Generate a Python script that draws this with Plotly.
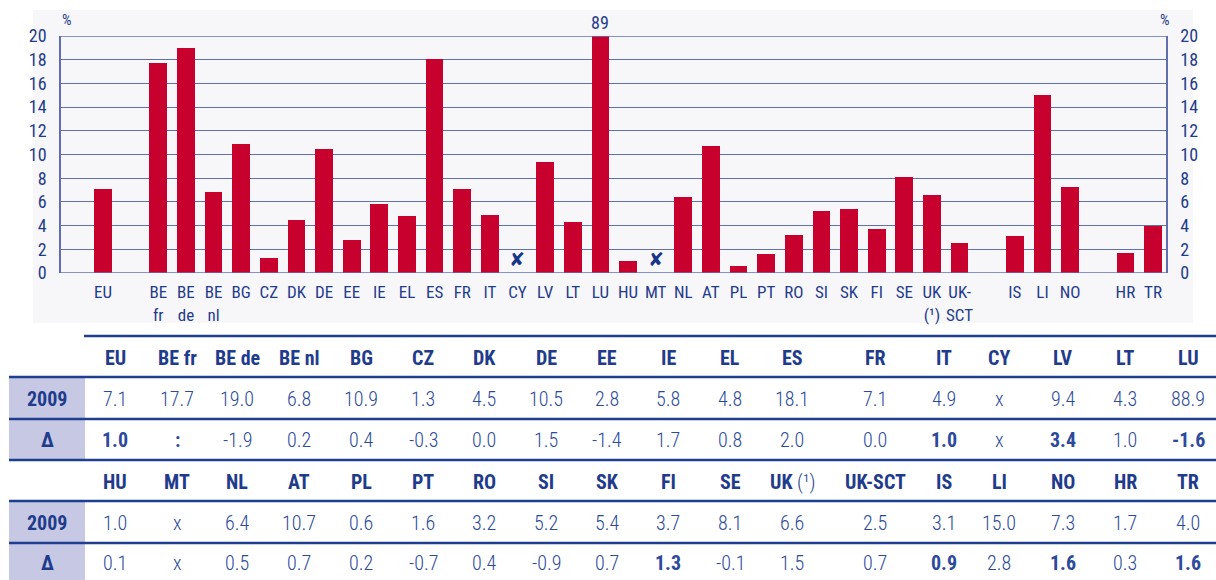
import plotly.graph_objects as go

# ---------------- data ----------------
countries = ["EU", "BE fr", "BE de", "BE nl", "BG", "CZ", "DK", "DE", "EE", "IE", "EL", "ES",
             "FR", "IT", "CY", "LV", "LT", "LU", "HU", "MT", "NL", "AT", "PL", "PT", "RO", "SI",
             "SK", "FI", "SE", "UK", "UK-SCT", "IS", "LI", "NO", "HR", "TR"]
values_2009 = [7.1, 17.7, 19.0, 6.8, 10.9, 1.3, 4.5, 10.5, 2.8, 5.8, 4.8, 18.1,
               7.1, 4.9, None, 9.4, 4.3, 88.9, 1.0, None, 6.4, 10.7, 0.6, 1.6, 3.2, 5.2,
               5.4, 3.7, 8.1, 6.6, 2.5, 3.1, 15.0, 7.3, 1.7, 4.0]
delta = ["1.0", ":", "-1.9", "0.2", "0.4", "-0.3", "0.0", "1.5", "-1.4", "1.7", "0.8", "2.0",
         "0.0", "1.0", "x", "3.4", "1.0", "-1.6", "0.1", "x", "0.5", "0.7", "0.2", "-0.7", "0.4", "-0.9",
         "0.7", "1.3", "-0.1", "1.5", "0.7", "0.9", "2.8", "1.6", "0.3", "1.6"]
delta_bold = ["EU", "BE fr", "IT", "LV", "LU", "FI", "IS", "NO", "TR"]
chart_groups = [["EU"],
                ["BE fr", "BE de", "BE nl", "BG", "CZ", "DK", "DE", "EE", "IE", "EL", "ES", "FR",
                 "IT", "CY", "LV", "LT", "LU", "HU", "MT", "NL", "AT", "PL", "PT", "RO", "SI",
                 "SK", "FI", "SE", "UK", "UK-SCT"],
                ["IS", "LI", "NO"],
                ["HR", "TR"]]
chart_ticktext = {"BE fr": "BE<br>fr", "BE de": "BE<br>de", "BE nl": "BE<br>nl",
                  "UK": "UK<br>(¹)", "UK-SCT": "UK-<br>SCT"}
table_header_text = {"UK": "<b>UK</b> <span style='font-weight:300'>(¹)</span>"}
y_ticks = [0, 2, 4, 6, 8, 10, 12, 14, 16, 18, 20]
row_label_year = "2009"
row_label_delta = "Δ"

# ---------------- style ----------------
W, H = 1216, 580
NAVY = "#1f3c8c"
TXT = "#2b4a9b"
RED = "#c8002e"
GRID = "#6170ad"
LAV = "#c6c8e4"
CF = "Liberation Sans Narrow, Roboto Condensed, Arial Narrow, sans-serif"
TF = "Roboto Condensed, Liberation Sans Narrow, Arial Narrow, sans-serif"

def px(x):
    return x / W

def py(y):
    return 1 - y / H

def label(xp, yp, text, font, xanchor="center", yanchor="middle"):
    return dict(x=px(xp), y=py(yp), xref="paper", yref="paper", text=text, showarrow=False,
                xanchor=xanchor, yanchor=yanchor, font=font)

# slots for the chart
pos = {}
slot = 0
for gi, g in enumerate(chart_groups):
    for c in g:
        pos[c] = slot
        slot += 1
    slot += 1

val = dict(zip(countries, values_2009))
bar_x = [pos[c] for c in countries if val[c] is not None]
bar_y = [val[c] for c in countries if val[c] is not None]

fig = go.Figure()
fig.add_trace(go.Bar(x=bar_x, y=bar_y, width=0.64, marker=dict(color=RED, line=dict(width=0)),
                     showlegend=False, hoverinfo="skip"))
# invisible trace on the right axis to show it
fig.add_trace(go.Scatter(x=[pos["TR"]], y=[0], yaxis="y2", mode="markers",
                         marker=dict(opacity=0), showlegend=False, hoverinfo="skip"))

x0p, x1p = 61, 1166
y0p, y1p = 273, 36
fig.update_layout(
    template="none",
    width=W, height=H, margin=dict(l=0, r=0, t=0, b=0, pad=0, autoexpand=False), autosize=False,
    paper_bgcolor="white", plot_bgcolor="rgba(0,0,0,0)",
    bargap=0,
    xaxis=dict(domain=[px(x0p), px(x1p)], range=[-1.52, 38.47], showgrid=False, zeroline=False,
               automargin=False,
               tickmode="array", tickvals=[pos[c] for c in countries],
               ticktext=[chart_ticktext.get(c, c) for c in countries],
               tickfont=dict(family=CF, size=17, color=NAVY), ticks="outside", ticklen=4,
               tickcolor="rgba(0,0,0,0)", showline=False, fixedrange=True),
    yaxis=dict(domain=[py(y0p), py(y1p)], range=[0, 20], tickvals=y_ticks, automargin=False,
               showgrid=True, gridcolor=GRID, gridwidth=1.3, zeroline=False,
               showline=True, linecolor=GRID, linewidth=1.5,
               tickfont=dict(family=CF, size=18, color=NAVY), ticks="outside", ticklen=9,
               tickcolor="rgba(0,0,0,0)"),
    yaxis2=dict(overlaying="y", side="right", range=[0, 20], tickvals=y_ticks, showgrid=False,
                automargin=False,
                zeroline=False, showline=True, linecolor=GRID, linewidth=1.5,
                tickfont=dict(family=CF, size=18, color=NAVY), ticks="outside", ticklen=9,
                tickcolor="rgba(0,0,0,0)"),
)

shapes = []
annotations = []
# chart panel background
shapes.append(dict(type="rect", xref="paper", yref="paper", x0=px(33), x1=px(1193),
                   y0=py(323), y1=py(10), fillcolor="#f7f7f9", line=dict(width=0), layer="below"))
# top border line at 20 and bottom at 0
for yv in (0, 20):
    shapes.append(dict(type="line", xref="paper", yref="y", x0=px(x0p), x1=px(x1p), y0=yv, y1=yv,
                       line=dict(color=GRID, width=1.5), layer="above"))

# % labels
annotations.append(label(67, 20, "%", dict(family=CF, size=15, color=NAVY)))
annotations.append(label(1165, 20, "%", dict(family=CF, size=15, color=NAVY)))
# LU off-scale label
annotations.append(dict(x=pos["LU"], y=20, xref="x", yref="y", yanchor="bottom", xanchor="center",
                        yshift=1, text=str(round(val["LU"])), showarrow=False,
                        font=dict(family=CF, size=18, color=NAVY)))
# not available marks
for c in countries:
    if val[c] is None:
        annotations.append(dict(x=pos[c], y=1.2, xref="x", yref="y", text="<i>✘</i>",
                                xanchor="center", yanchor="middle", showarrow=False,
                                font=dict(family="DejaVu Sans", size=19, color="#17368a")))

# ---------------- table ----------------
col_x = [115, 177, 237, 299, 361, 423, 484, 546, 607, 668, 730, 792, 875, 944, 999, 1063, 1125, 1188]
blocks = [countries[:18], countries[18:]]
block_rows = [(358, 399, 440), (482, 523, 563)]
line_c = "#1e3f8f"

# lavender cells
for (ty, ry) in [(377, 460), (501, 580)]:
    shapes.append(dict(type="rect", xref="paper", yref="paper", x0=px(9), x1=px(85),
                       y0=py(ry), y1=py(ty), fillcolor=LAV, line=dict(width=0), layer="below"))
# horizontal rules
shapes.append(dict(type="line", xref="paper", yref="paper", x0=px(84), x1=1, y0=py(336), y1=py(336),
                   line=dict(color=line_c, width=2.4)))
for yl in (377, 419, 460, 501, 543):
    shapes.append(dict(type="line", xref="paper", yref="paper", x0=px(9), x1=1, y0=py(yl), y1=py(yl),
                       line=dict(color=line_c, width=2.4)))

HF = dict(family=TF, size=20, color=NAVY, weight="bold")
VF = dict(family=TF, size=20, color=TXT, weight=300)
dval = dict(zip(countries, delta))
for blk, (hy, vy, dy) in zip(blocks, block_rows):
    annotations.append(label(47, vy, row_label_year, dict(family=TF, size=20, color=NAVY, weight="bold")))
    annotations.append(label(47, dy, row_label_delta, dict(family=TF, size=20, color=NAVY, weight="bold")))
    for c, xc in zip(blk, col_x):
        annotations.append(label(xc, hy, table_header_text.get(c, c), HF))
        v = val[c]
        annotations.append(label(xc, vy, "x" if v is None else f"{v:.1f}", VF))
        d = dval[c]
        f = dict(VF, weight="bold") if c in delta_bold else VF
        annotations.append(label(xc, dy, d, f))

fig.update_layout(shapes=shapes, annotations=annotations)
fig.write_html("out.html", config={"displayModeBar": False},
               post_script="document.body.style.margin='0';document.body.style.overflow='hidden';")
